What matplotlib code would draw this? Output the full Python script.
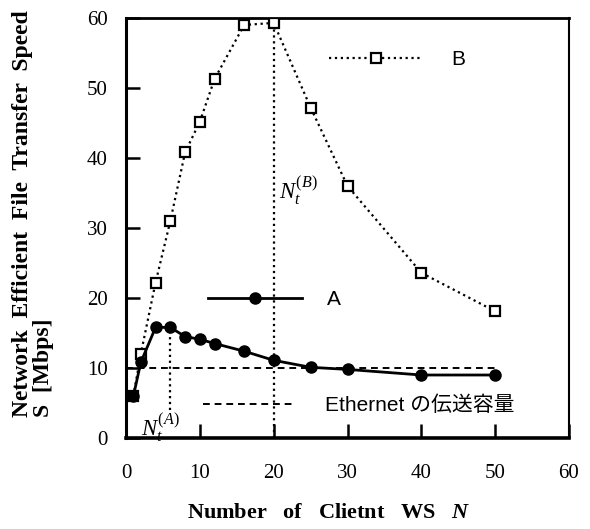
'''
Effective file transfer speed vs number of client WS (A / B)
'''

import numpy as np
import matplotlib.pyplot as plt
from matplotlib.lines import Line2D

plt.rcParams['mathtext.fontset'] = 'custom'
plt.rcParams['mathtext.rm'] = 'Liberation Serif'
plt.rcParams['mathtext.it'] = 'Liberation Serif:italic'
plt.rcParams['mathtext.bf'] = 'Liberation Serif:bold'
plt.rcParams['mathtext.bfit'] = 'Liberation Serif:bold:italic'

# Number of client WS
N_vals = np.array([1, 2, 4, 6, 8, 10, 12, 16, 20, 25, 30, 40, 50])
# Effective transfer speed S [Mbps]
S_A = np.array([6.0, 10.8, 15.8, 15.8, 14.5, 14.1, 13.5, 12.4, 11.1, 10.1, 9.8, 9.0, 9.0])
S_B = np.array([6.0, 12.0, 22.2, 31.0, 40.8, 45.2, 51.3, 59.0, 59.3, 47.2, 36.0, 23.6, 18.1])
ETHERNET_CAP = 10.0
N_t_A = 6
N_t_B = 20

X_TICKS = [0, 10, 20, 30, 40, 50, 60]
Y_TICKS = [0, 10, 20, 30, 40, 50, 60]

serif = 'Liberation Serif'
sans = ['Liberation Sans', 'Noto Sans CJK JP']

fig = plt.figure(figsize=(5.9, 5.29), dpi=100)
ax = fig.add_axes([0.2136, 0.172, 0.7508, 0.794])

ax.plot(N_vals, S_B, ':', color='black', lw=1.6, marker='s', ms=7,
        mfc='white', mec='black', mew=1.6, zorder=3)
ax.plot(N_vals, S_A, '-', color='black', lw=2.0, marker='o', ms=8,
        mfc='black', mec='black', zorder=4)
ax.hlines(ETHERNET_CAP, 0, N_vals[-1], colors='black', linestyles=(0, (3.5, 2.5)), lw=1.4, zorder=2)

# threshold lines
ax.vlines(N_t_B, 0, S_B[N_vals == N_t_B][0], colors='black', linestyles=':', lw=1.6, zorder=1)
ax.vlines(N_t_A, 4, S_A[N_vals == N_t_A][0], colors='black', linestyles=':', lw=1.6, zorder=1)
ax.text(23.4, 35.3, r'$N_t^{\mathit{(B)}}$', fontsize=16.5, ha='center', va='center')
ax.text(4.6, 1.5, r'$N_t^{\mathit{(A)}}$', fontsize=16.5, ha='center', va='center')

ax.set_xlim(0, 60)
ax.set_ylim(0, 60)
ax.set_xticks(X_TICKS)
ax.set_yticks(Y_TICKS)
ax.tick_params(direction='in', length=10, width=1.8, top=False, right=False)
ax.tick_params(axis='x', pad=19)
ax.tick_params(axis='y', pad=13)
for lab in ax.get_xticklabels() + ax.get_yticklabels():
    lab.set_fontfamily(serif)
    lab.set_fontsize(15)
ax.spines['left'].set_linewidth(2.2)
ax.spines['bottom'].set_linewidth(2.6)
ax.spines['top'].set_linewidth(2.0)
ax.spines['right'].set_linewidth(1.5)

# legends
leg_kw = dict(frameon=False, borderpad=0, borderaxespad=0, numpoints=1,
              handlelength=4.5, loc='center left', bbox_transform=fig.transFigure,
              prop={'family': sans, 'size': 15})
hB = Line2D([], [], ls=':', color='black', lw=1.6, marker='s', ms=7, mfc='white', mec='black', mew=1.6)
hA = Line2D([], [], ls='-', color='black', lw=2.0, marker='o', ms=8, mfc='black')
hE = Line2D([], [], ls=(0, (3.5, 2.5)), color='black', lw=1.4)
legB = ax.legend([hB], ['B'], bbox_to_anchor=(0.5576, 0.8866), handletextpad=1.35, **leg_kw)
ax.add_artist(legB)
legA = ax.legend([hA], ['A'], bbox_to_anchor=(0.3525, 0.4329), handletextpad=1.2, **leg_kw)
ax.add_artist(legA)
legE = ax.legend([hE], ['Ethernet の伝送容量'], bbox_to_anchor=(0.344, 0.2344),
                 handletextpad=1.55, **dict(leg_kw, handlelength=4.3))

ax.set_xlabel(r'Number   of   Clietnt   WS   $\mathbfit{N}$', fontfamily=serif,
              fontweight='bold', fontsize=16, va='center')
ax.xaxis.set_label_coords(0.458, -0.178)
fig.text(33 / 590, 0.596, 'Network  Efficient  File  Transfer  Speed\nS  [Mbps]',
         rotation=90, ha='center', va='center', multialignment='left',
         fontfamily=serif, fontweight='bold', fontsize=17, linespacing=0.95)

plt.savefig('out.png', dpi=100)
